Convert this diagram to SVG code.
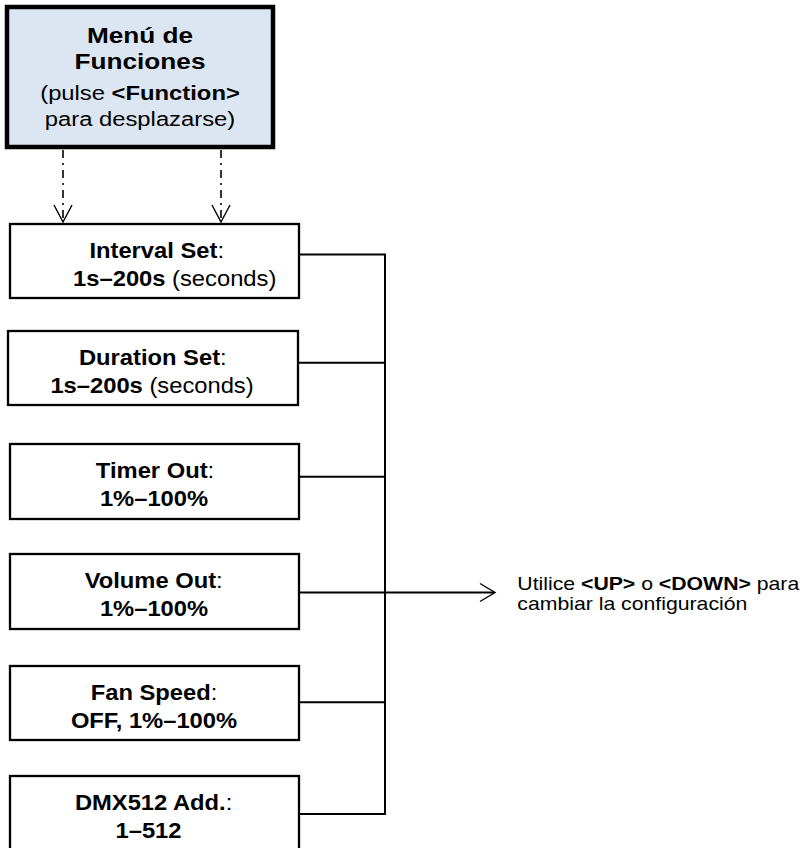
<svg xmlns="http://www.w3.org/2000/svg" width="807" height="848" viewBox="0 0 807 848">
<defs>
<style>
text{font-family:"Liberation Sans",Arial,sans-serif;fill:#000}
.b{font-weight:bold}
.box{fill:#fff;stroke:#000;stroke-width:2.3}
.bt{font-size:22px}
.conn{fill:none;stroke:#000;stroke-width:2}
.dash{fill:none;stroke:#000;stroke-width:1.6;stroke-dasharray:8 5 2 5}
.head{fill:none;stroke:#000;stroke-width:1.4}
</style>
</defs>
<rect width="807" height="848" fill="#fff"/>
<g id="menu">
<rect x="7" y="7" width="266" height="140" fill="#dce6f2" stroke="#000" stroke-width="4.5"/>
<text class="b" font-size="22" text-anchor="middle" transform="translate(140,43.3) scale(1.19,1)">Menú de</text>
<text class="b" font-size="22" text-anchor="middle" transform="translate(140,69.3) scale(1.19,1)">Funciones</text>
<text font-size="20" text-anchor="middle" transform="translate(140,100) scale(1.19,1)">(pulse <tspan class="b">&lt;Function&gt;</tspan></text>
<text font-size="20" text-anchor="middle" transform="translate(140,126) scale(1.19,1)">para desplazarse)</text>
</g>
<g id="interval">
<rect class="box" x="10" y="224" width="289" height="74"/>
<text class="bt" text-anchor="middle" transform="translate(156.7,257.5) scale(1.08,1)"><tspan class="b">Interval Set</tspan>:</text>
<text class="bt" text-anchor="middle" transform="translate(174.7,286) scale(1.08,1)"><tspan class="b">1s–200s</tspan> (seconds)</text>
</g>
<g id="duration">
<rect class="box" x="8" y="331" width="290" height="74"/>
<text class="bt" text-anchor="middle" transform="translate(152.8,364.5) scale(1.08,1)"><tspan class="b">Duration Set</tspan>:</text>
<text class="bt" text-anchor="middle" transform="translate(152,393) scale(1.08,1)"><tspan class="b">1s–200s</tspan> (seconds)</text>
</g>
<g id="timer">
<rect class="box" x="10" y="444" width="289" height="75"/>
<text class="bt" text-anchor="middle" transform="translate(155,477.5) scale(1.08,1)"><tspan class="b">Timer Out</tspan>:</text>
<text class="bt b" text-anchor="middle" transform="translate(154,506) scale(1.08,1)">1%–100%</text>
</g>
<g id="volume">
<rect class="box" x="10" y="554" width="289" height="75"/>
<text class="bt" text-anchor="middle" transform="translate(153.7,587.5) scale(1.08,1)"><tspan class="b">Volume Out</tspan>:</text>
<text class="bt b" text-anchor="middle" transform="translate(154,616) scale(1.08,1)">1%–100%</text>
</g>
<g id="fan">
<rect class="box" x="10" y="666" width="289" height="74"/>
<text class="bt" text-anchor="middle" transform="translate(154,699.5) scale(1.08,1)"><tspan class="b">Fan Speed</tspan>:</text>
<text class="bt b" text-anchor="middle" transform="translate(154,728) scale(1.08,1)">OFF, 1%–100%</text>
</g>
<g id="dmx">
<rect class="box" x="10" y="776" width="289" height="74"/>
<text class="bt" text-anchor="middle" transform="translate(153.6,809.5) scale(1.08,1)"><tspan class="b">DMX512 Add.</tspan>:</text>
<text class="bt b" text-anchor="middle" transform="translate(148.5,838) scale(1.08,1)">1–512</text>
</g>
<g id="note">
<text font-size="18" transform="translate(517.3,589.5) scale(1.18,1)">Utilice <tspan class="b">&lt;UP&gt;</tspan> o <tspan class="b">&lt;DOWN&gt;</tspan> para</text>
<text font-size="18" transform="translate(517.3,609.5) scale(1.18,1)">cambiar la configuración</text>
</g>
<g id="connectors">
<line class="dash" x1="63" y1="150" x2="63" y2="221"/>
<polyline class="head" points="54,205 63,222 72,205"/>
<line class="dash" x1="221" y1="150" x2="221" y2="221"/>
<polyline class="head" points="212,205 221,222 230,205"/>
<path class="conn" d="M299,254.5 H385 M298,362.7 H385 M299,476.7 H385 M299,702.3 H385 M299,814 H385 M385,253.5 V815"/>
<path class="conn" d="M299,592.5 H494"/>
<polyline class="head" points="480,583.5 495,592.5 480,601.5"/>
</g>
</svg>
